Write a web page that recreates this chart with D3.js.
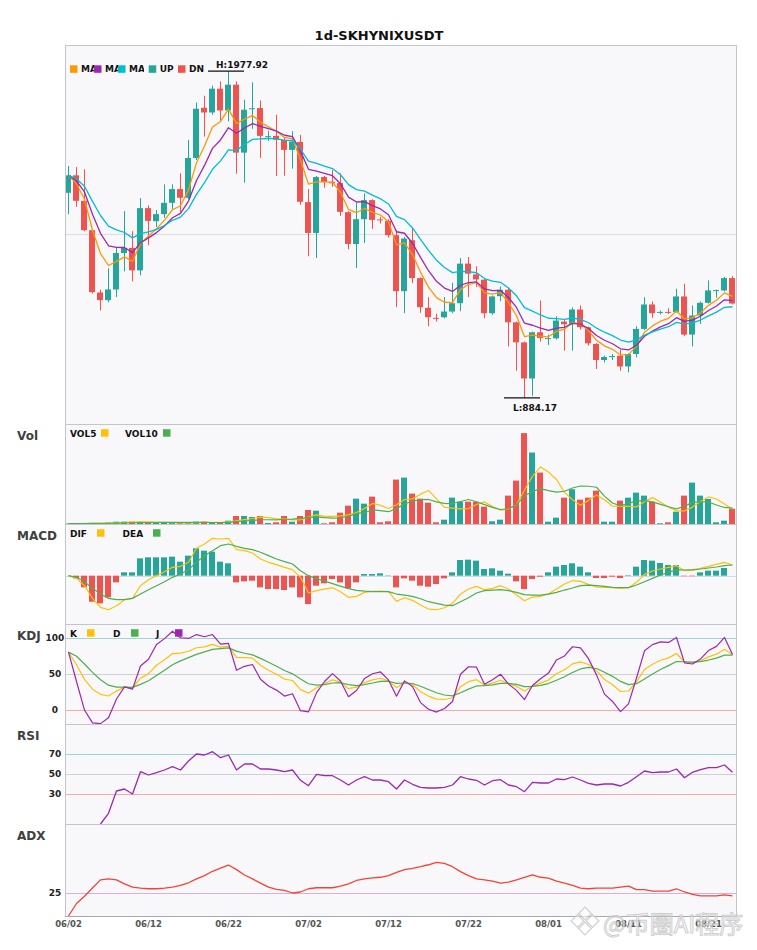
<!DOCTYPE html>
<html><head><meta charset="utf-8">
<script src="https://cdn.jsdelivr.net/npm/d3@7"></script>
<style>body{margin:0;background:#fff;} svg{display:block;font-family:"DejaVu Sans",sans-serif;}</style>
</head><body><svg id="c" width="757" height="950"></svg>
<script>
// ---------- data ----------
const symbolTitle = "1d-SKHYNIXUSDT";
const startDate = "2025-06-02";
const tickLabels = ["06/02","06/12","06/22","07/02","07/12","07/22","08/01","08/11","08/21"];
const open = [1570.7,1629.2,1543.8,1445.4,1237.0,1211.2,1247.1,1369.1,1385.9,1311.0,
 1519.3,1475.6,1499.2,1537.1,1583.1,1553.9,1687.3,1855.3,1839.5,1919.2,
 1846.2,1932.6,1705.1,1850.3,1854.3,1756.8,1761.2,1747.8,1714.2,1741.1,
 1539.4,1436.3,1623.4,1607.6,1603.3,1505.8,1399.3,1482.3,1546.2,1481.6,
 1476.6,1428.6,1241.4,1411.8,1285.1,1185.6,1152.0,1154.0,1173.2,1201.1,
 1333.5,1297.5,1279.7,1167.5,1224.6,1246.1,1137.2,1070.0,949.1,1103.6,
 1081.5,1083.5,1139.6,1131.9,1180.0,1120.5,1064.6,1010.9,1021.3,1025.4,
 989.4,1031.0,1115.0,1196.7,1169.2,1171.9,1170.9,1223.6,1096.0,1159.8,
 1202.4,1242.8,1243.8,1285.1];
const high = [1660.4,1657.1,1649.3,1448.7,1246.1,1317.7,1389.2,1509.2,1442.0,1552.9,
 1528.4,1512.6,1598.9,1598.9,1635.9,1747.8,1873.1,1895.6,1929.2,1943.6,
 1977.92,1943.6,1882.2,1940.3,1879.8,1778.0,1831.8,1754.5,1777.0,1764.6,
 1583.1,1626.8,1626.8,1646.9,1635.9,1509.2,1537.1,1568.7,1549.0,1490.0,
 1482.3,1445.4,1422.9,1454.4,1287.4,1221.3,1165.5,1221.3,1269.6,1352.3,
 1355.7,1324.4,1284.1,1227.0,1257.2,1250.5,1139.6,1072.4,1106.0,1210.2,
 1096.0,1157.4,1146.3,1186.7,1193.4,1122.8,1067.4,1025.4,1031.0,1044.5,
 1033.2,1123.8,1221.3,1206.8,1176.6,1184.3,1249.5,1266.3,1193.4,1206.8,
 1277.4,1247.1,1288.5,1291.8];
const low = [1499.1,1523.6,1442.0,1233.7,1176.6,1204.5,1221.3,1307.6,1274.0,1294.2,
 1395.0,1456.5,1486.7,1515.9,1506.8,1549.5,1680.6,1758.8,1831.8,1809.3,
 1809.3,1634.5,1604.3,1784.7,1687.3,1744.4,1626.8,1627.8,1651.3,1530.4,
 1358.0,1352.3,1587.5,1590.9,1493.4,1381.5,1318.7,1402.7,1449.7,1467.9,
 1420.8,1187.7,1167.5,1268.3,1168.8,1123.8,1139.6,1150.7,1167.5,1174.2,
 1221.3,1254.9,1150.7,1162.1,1207.8,1056.6,975.0,884.17,891.0,1072.4,
 1061.3,1079.1,1042.2,1042.2,1112.7,1059.0,980.7,1002.9,1010.9,975.0,
 969.3,1019.6,1111.0,1152.0,1163.1,1165.5,1169.9,1090.3,1056.6,1131.9,
 1200.0,1219.0,1240.4,1196.7];
const close = [1629.2,1543.8,1445.4,1238.1,1211.2,1247.1,1369.1,1385.9,1311.0,1519.3,
 1476.6,1499.2,1537.1,1583.1,1553.9,1687.3,1851.9,1839.5,1919.2,1846.2,
 1932.6,1705.1,1848.6,1853.6,1761.2,1760.2,1747.8,1714.2,1742.1,1540.5,
 1436.3,1623.4,1606.6,1602.3,1506.8,1399.3,1482.3,1546.2,1480.0,1478.3,
 1428.6,1241.4,1417.5,1285.1,1187.7,1154.0,1149.7,1173.2,1201.1,1333.5,
 1299.9,1280.7,1167.5,1223.6,1246.1,1137.2,1070.0,949.1,1103.6,1084.9,
 1084.2,1143.0,1130.5,1180.0,1120.5,1066.7,1010.9,1020.9,1024.0,989.4,
 1031.0,1115.0,1196.7,1167.5,1171.9,1169.2,1223.6,1096.0,1159.8,1202.4,
 1243.8,1244.8,1285.1,1200.0];
const volume = [50,40,50,80,80,150,230,230,230,230,
 130,100,100,120,120,130,230,230,130,100,
 330,800,800,700,800,100,170,800,230,800,
 1400,1330,70,170,1130,1830,2530,2030,2730,170,
 270,4430,4630,3030,2530,2130,170,430,2630,2230,
 2230,2200,1730,270,430,2830,4330,9070,7130,5130,
 230,630,2630,3470,2430,2630,3330,230,230,2330,
 2630,3130,2830,2230,70,170,1230,2830,4130,2830,
 2500,170,330,1530];
const macdDif = [0,-5.3,-20,-45.3,-63.3,-68,-60,-48,-45.3,-20,
 -8,0,8,16.7,18.7,26.7,54.7,63.3,74.7,73.3,
 74.7,52,50,45.3,33.3,26.7,22,16.7,12,-3.3,
 -34.7,-30,-26.7,-24,-32,-43.3,-41.3,-33.3,-31.3,-30.7,
 -32,-51.3,-44,-49.3,-58.7,-66.7,-68,-64,-55.3,-36.7,
 -26.7,-21.3,-28,-25.3,-20,-26.7,-38.7,-50,-42.7,-41.3,
 -36,-26.7,-16.7,-10,-11.3,-17.3,-22.7,-23.3,-24,-25.3,
 -24,-13.3,2.7,9.3,13.3,16.7,20,10,10.7,14.7,
 18.7,22.7,26.7,21.3];
const macdDea = [0,-3.3,-12,-25.3,-36.7,-45.3,-48,-48,-45.3,-36.7,
 -28,-20,-12,-3.3,3.3,12,26.7,40,50,60,
 63.3,58.7,54.7,52,46.7,40,33.3,28,23.3,10,
 0,-6,-11,-16,-21,-26,-29.3,-31,-32,-32,
 -32,-36.7,-38.7,-41.3,-46,-52,-55.3,-58.7,-60,-52,
 -44,-34.7,-30,-28.7,-28,-30,-33.3,-38,-38.7,-38.7,
 -36.7,-33.3,-28.7,-24.7,-20,-18.7,-20,-21.3,-23.3,-24,
 -24,-18.7,-12,-5.3,1.3,6.7,12,11.3,12,13.3,
 15.3,17.3,20,21.3];
const macdHist = [0,-5.3,-23.3,-52,-55.3,-43.3,-13.3,6.7,6.7,34.7,
 36.7,36.7,36.7,38,28,40,54.7,50,48,28,
 24.7,-13.3,-11.3,-10,-23.3,-26.7,-26.7,-28.7,-23.3,-43.3,
 -56.7,-20,-15.3,-6.7,-13.3,-25.3,-13.3,3.3,3.3,4.7,
 0.7,-23.3,-5.3,-10,-20,-22,-16.7,-5.3,6.7,31.3,
 32,30,13.3,14.7,10,4,-11.3,-26.7,-6.7,-2,
 6.7,18,21.3,24.7,18,6.7,-4.7,-4.7,-2,-4.7,
 1,18,31.3,30,25.3,21.3,21.3,-1,-1,6.7,
 10,10,15.3,0];
const rsi = [null,null,null,null,0,10.7,33,35,30,52.3,
 49,51.3,54,57.3,54,63,70,69,72.3,66.3,
 69,54,60,60,55,55,54,52.3,54,43.7,
 38.3,49.7,48.3,48.3,44,39,44,47.3,44,44,
 42.3,35,44,39.7,36.7,36,36,36.7,39,47.3,
 45,43.7,39,43.3,44.3,39,37.3,32.3,41.7,41,
 41,45,44.3,47,44,40.7,39,40,40,38,
 41.7,47.3,53,51.3,52,52,55,46.3,51.7,54.3,
 56.3,56.3,59,51.7];
const adx = [0,13.6,21.4,30.4,39.3,40.4,39.3,35,31.4,30.4,
 29.6,29.6,30.4,31.4,33.2,36.1,40.4,43.9,48.6,52.1,
 55.4,50.4,44.6,40.4,35.7,31.4,28.9,27.9,25,26.1,
 29.6,30.7,30.7,30.7,32.5,35,38.6,40.4,41.4,42.1,
 43.9,47.5,50.4,51.8,53.6,55.7,58.2,57.1,53.6,48.2,
 43.9,40.4,39.3,37.9,35.7,36.8,39.3,42.1,44.6,42.1,
 41.1,37.9,35.7,33.2,30.4,29.6,30.4,30.4,30.4,31.4,
 32.5,28.6,28.6,27.1,27.1,27.1,29.6,26.1,23.6,21.8,
 21.8,21.8,22.9,21.8];
const maSpans = [5, 8, 13];
const maNames = ["MA5", "MA8", "MA13"];
const volMaPeriods = [5, 10];
const kdjPeriod = 9;
const kdjRefs = [100, 50, 0];
const rsiRefs = [70, 50, 30];
const adxRefs = [25];
const watermarkText = "@币圈AI程序";

// ---------- derived indicators ----------
function ema(arr, span){ const a = 2/(span+1); const out=[]; arr.forEach((v,i)=>{ out.push(i===0? v : out[i-1] + a*(v-out[i-1])); }); return out; }
function sma(arr, p){ return arr.map((v,i)=> d3.mean(arr.slice(Math.max(0,i-p+1), i+1))); }
const maLines = maSpans.map(s => ema(close, s));
const volMaLines = volMaPeriods.map(p => sma(volume, p));
const K=[], D=[], J=[];
close.forEach((c,i)=>{
  const s = Math.max(0,i-kdjPeriod+1);
  const ll = d3.min(low.slice(s,i+1)), hh = d3.max(high.slice(s,i+1));
  const rsv = hh===ll ? 50 : (c-ll)/(hh-ll)*100;
  const k = i===0 ? rsv : (2*K[i-1]+rsv)/3;
  const d = i===0 ? k : (2*D[i-1]+k)/3;
  K.push(k); D.push(d); J.push(3*k-2*d);
});

// ---------- layout ----------
const svg = d3.select("#c");
const L = 65, R = 737;
const P = {main:[45,424], vol:[424,524], macd:[524,624], kdj:[624,724], rsi:[724,824], adx:[824,916]};
const n = close.length;
const idx = d3.range(n);
const parse = d3.timeParse("%Y-%m-%d");
const dates = d3.timeDay.range(parse(startDate), d3.timeDay.offset(parse(startDate), n));
const fmt = d3.timeFormat("%m/%d");
const x = d3.scalePoint().domain(idx).range([L-1, R-1]).padding(0.5);
const UP="#26a69a", DN="#ef5350";
const C = {ma:["#ff9800","#9c27b0","#00bcd4"], y:"#ffc107", g:"#4caf50", p:"#9c27b0", adx:"#f44336"};

// backgrounds
Object.values(P).forEach(([t,b])=>{
  svg.append("rect").attr("x",L).attr("y",t).attr("width",R-L).attr("height",b-t).attr("fill","#f8f8fb");
});

// title
svg.append("text").attr("x",379).attr("y",39.5).attr("text-anchor","middle")
  .attr("font-size",13).attr("font-weight","bold").attr("fill","#111").text(symbolTitle);

function hline(y, color){ svg.append("line").attr("x1",L).attr("x2",R).attr("y1",Math.round(y)+0.5).attr("y2",Math.round(y)+0.5).attr("stroke",color).attr("stroke-width",1); }
function drawLine(g, vals, y, color, w){
  g.append("path").datum(idx.filter(i=>vals[i]!=null)).attr("fill","none").attr("stroke",color).attr("stroke-width",w||1.2)
   .attr("stroke-linejoin","round").attr("d", d3.line().x(i=>x(i)+0.5).y(i=>y(vals[i])));
}

// ---------- main panel ----------
const lo = d3.min(low), hi = d3.max(high), rg = hi-lo;
const yP = d3.scaleLinear().domain([lo-0.08*rg, hi+0.08*rg]).range([P.main[1], P.main[0]]);
hline(yP((lo+hi)/2), "#dcdce6");
const gM = svg.append("g");
gM.selectAll("line.w").data(idx).join("line").attr("class","w")
  .attr("x1",i=>x(i)+0.5).attr("x2",i=>x(i)+0.5).attr("y1",i=>yP(high[i])).attr("y2",i=>yP(low[i]))
  .attr("stroke",i=>close[i]>=open[i]?UP:DN).attr("stroke-width",1);
gM.selectAll("rect.b").data(idx).join("rect").attr("class","b")
  .attr("x",i=>x(i)-3).attr("width",6)
  .attr("y",i=>yP(Math.max(open[i],close[i])))
  .attr("height",i=>Math.max(1, Math.abs(yP(open[i])-yP(close[i]))))
  .attr("fill",i=>close[i]>=open[i]?UP:DN);
maLines.forEach((m,k)=>drawLine(gM, m, yP, C.ma[k], 1.3));
// high / low markers
const iH = d3.maxIndex(high), iL = d3.minIndex(low);
svg.append("line").attr("x1",x(iH)-20).attr("x2",x(iH)+16).attr("y1",yP(high[iH])).attr("y2",yP(high[iH])).attr("stroke","#111").attr("stroke-width",1.2);
svg.append("text").attr("x",x(iH)-12).attr("y",yP(high[iH])-3).attr("font-size",9).attr("font-weight","bold").attr("fill","#111").text("H:"+high[iH].toFixed(2));
svg.append("line").attr("x1",x(iL)-20).attr("x2",x(iL)+16).attr("y1",yP(low[iL])).attr("y2",yP(low[iL])).attr("stroke","#111").attr("stroke-width",1.2);
svg.append("text").attr("x",x(iL)-11).attr("y",yP(low[iL])+13).attr("font-size",9).attr("font-weight","bold").attr("fill","#111").text("L:"+low[iL].toFixed(2));

// legend helper
function legend(items, top, textFirst){
  const defs = svg.append("defs");
  items.forEach((it,k)=>{
    const id = "clip"+top+"_"+k;
    if(textFirst){
      svg.append("text").attr("x",it.x).attr("y",top+13).attr("font-size",9).attr("font-weight","bold").attr("fill","#111").text(it.t);
      svg.append("rect").attr("x",it.sx).attr("y",top+5.2).attr("width",7.5).attr("height",7.5).attr("fill",it.c);
    } else {
      svg.append("rect").attr("x",it.x).attr("y",top+20.3).attr("width",7.5).attr("height",7.5).attr("fill",it.c);
      const clipW = it.w || 40;
      defs.append("clipPath").attr("id",id).append("rect").attr("x",it.x+11).attr("y",top+10).attr("width",clipW).attr("height",20);
      svg.append("text").attr("x",it.x+11).attr("y",top+27.3).attr("font-size",9).attr("font-weight","bold").attr("fill","#111")
        .attr("clip-path","url(#"+id+")").text(it.t);
    }
  });
}
legend([{x:70,c:C.ma[0],t:maNames[0],w:13.5},{x:94,c:C.ma[1],t:maNames[1],w:13.5},{x:118,c:C.ma[2],t:maNames[2],w:15},
        {x:148.7,c:UP,t:"UP",w:20},{x:178,c:DN,t:"DN",w:20}], P.main[0], false);

// ---------- volume ----------
const yV = d3.scaleLinear().domain([0, d3.max(volume)*1.1]).range([P.vol[1], P.vol[0]]);
const gV = svg.append("g");
gV.selectAll("rect").data(idx).join("rect").attr("x",i=>x(i)-3).attr("width",6)
  .attr("y",i=>yV(volume[i])).attr("height",i=>yV(0)-yV(volume[i])).attr("fill",i=>close[i]>=open[i]?UP:DN);
drawLine(gV, volMaLines[0], yV, C.y, 1.2);
drawLine(gV, volMaLines[1], yV, C.g, 1.2);
legend([{x:70,sx:101,c:C.y,t:"VOL5"},{x:125,sx:163,c:C.g,t:"VOL10"}], P.vol[0], true);

// ---------- MACD ----------
const mAll = macdDif.concat(macdDea, macdHist);
const mMin = d3.min(mAll), mMax = d3.max(mAll), mR = mMax-mMin;
const yM = d3.scaleLinear().domain([mMin-0.2*mR, mMax+0.2*mR]).range([P.macd[1], P.macd[0]]);
hline(yM(0), "#d8d8e0");
const gD = svg.append("g");
gD.selectAll("rect").data(idx).join("rect").attr("x",i=>x(i)-3).attr("width",6)
  .attr("y",i=>yM(Math.max(0,macdHist[i]))).attr("height",i=>Math.abs(yM(macdHist[i])-yM(0)))
  .attr("fill",i=>macdHist[i]>=0?UP:DN);
drawLine(gD, macdDif, yM, C.y, 1.2);
drawLine(gD, macdDea, yM, C.g, 1.2);
legend([{x:70,sx:97,c:C.y,t:"DIF"},{x:122.6,sx:153,c:C.g,t:"DEA"}], P.macd[0], true);

// ---------- KDJ ----------
const yK = d3.scaleLinear().domain([-20,120]).range([P.kdj[1], P.kdj[0]]);
const refCol = {100:"#9ad6d6",70:"#9ad6d6",50:"#d0d0d6",0:"#f4aaaa",30:"#f4aaaa",25:"#dcaedc"};
kdjRefs.forEach(v=>hline(yK(v), refCol[v]));
const gK = svg.append("g");
drawLine(gK, K, yK, C.y, 1.2);
drawLine(gK, D, yK, C.g, 1.2);
drawLine(gK, J, yK, C.p, 1.2);
legend([{x:70,sx:87,c:C.y,t:"K"},{x:113,sx:131,c:C.g,t:"D"},{x:156,sx:175,c:C.p,t:"J"}], P.kdj[0], true);

// ---------- RSI ----------
const yR = d3.scaleLinear().domain([0,100]).range([P.rsi[1], P.rsi[0]]);
rsiRefs.forEach(v=>hline(yR(v), refCol[v]));
const gR = svg.append("g");
drawLine(gR, rsi, yR, C.p, 1.3);

// ---------- ADX ----------
const yA = d3.scaleLinear().domain([0,100]).range([P.adx[1], P.adx[0]]);
adxRefs.forEach(v=>hline(yA(v), refCol[v]));
const gA = svg.append("g");
drawLine(gA, adx, yA, C.adx, 1.3);

// ---------- borders ----------
Object.values(P).forEach(([t,b])=>{
  svg.append("rect").attr("x",L+0.5).attr("y",t+0.5).attr("width",R-L-1).attr("height",b-t).attr("fill","none").attr("stroke","#c4c4cc").attr("stroke-width",1);
});
svg.append("line").attr("x1",L).attr("x2",R).attr("y1",P.adx[1]+0.5).attr("y2",P.adx[1]+0.5).attr("stroke","#a8a8b0");

// reference value labels
function refLabels(vals, y){ vals.forEach(v=>svg.append("text").attr("x",55).attr("y",y(v)).attr("dy","0.35em").attr("text-anchor","middle")
  .attr("font-size",9).attr("font-weight","bold").attr("fill","#222").text(v)); }
refLabels(kdjRefs, yK); refLabels(rsiRefs, yR); refLabels(adxRefs, yA);

// panel titles
[["Vol",P.vol[0]],["MACD",P.macd[0]],["KDJ",P.kdj[0]],["RSI",P.rsi[0]],["ADX",P.adx[0]]].forEach(([t,top])=>{
  svg.append("text").attr("x",17).attr("y",top+15.5).attr("font-size",12).attr("font-weight","bold").attr("fill","#404040").text(t);
});

// x axis labels
const xAxis = d3.axisBottom(x).tickValues(idx.filter(i=>tickLabels.includes(fmt(dates[i])))).tickFormat(i=>fmt(dates[i])).tickSize(0).tickPadding(5);
const gX = svg.append("g").attr("transform","translate(0,"+P.adx[1]+")").call(xAxis);
gX.select(".domain").remove();
gX.selectAll("text").attr("font-size",8.5).attr("font-weight","bold").attr("fill","#555").attr("font-family","DejaVu Sans");

// watermark (semi-transparent, over the last axis labels as in the reference)
const wm = svg.append("g").attr("opacity",0.8);
const lc = [585, 921];
[[0,-7.5],[-7.5,0],[7.5,0],[0,7.5]].forEach(([dx,dy])=>{
  const cx = lc[0]+dx, cy = lc[1]+dy;
  wm.append("rect").attr("x",cx-4.5).attr("y",cy-4.5).attr("width",9).attr("height",9)
    .attr("transform","rotate(45,"+cx+","+cy+")").attr("fill","#fff").attr("fill-opacity",0.7).attr("stroke","#c8c8c8").attr("stroke-width",1.3);
});
wm.append("text").attr("x",603).attr("y",933).attr("font-size",24).attr("font-family","'Noto Sans CJK SC',sans-serif")
  .attr("fill","#fff").attr("fill-opacity",0.75).attr("stroke","#c4c4c4").attr("stroke-width",1).text(watermarkText);
</script>
</body></html>
